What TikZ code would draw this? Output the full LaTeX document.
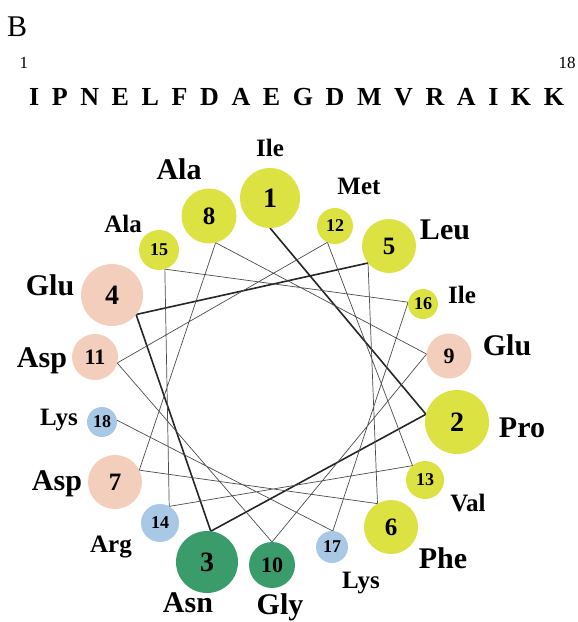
\documentclass[tikz,border=0pt]{standalone}
\usepackage{fontspec}
\setmainfont{Liberation Serif}
\usetikzlibrary{backgrounds}
\definecolor{cyel}{RGB}{220,226,66}
\definecolor{cpink}{RGB}{243,206,188}
\definecolor{cblue}{RGB}{168,200,230}
\definecolor{cgreen}{RGB}{58,156,106}
\newcommand{\numA}{\bfseries\fontsize{28}{28}\selectfont}
\newcommand{\numB}{\bfseries\fontsize{25}{25}\selectfont}
\newcommand{\numC}{\bfseries\fontsize{22}{22}\selectfont}
\newcommand{\numD}{\bfseries\fontsize{18}{18}\selectfont}
\newcommand{\labL}{\bfseries\fontsize{30}{30}\selectfont}
\newcommand{\labS}{\bfseries\fontsize{25}{25}\selectfont}
\begin{document}
\begin{tikzpicture}[x=1pt,y=-1pt,
  res/.style={circle,inner sep=0pt,outer sep=0pt,draw=none,minimum size=#1},
  yel/.style={res=#1,fill=cyel},
  pink/.style={res=#1,fill=cpink},
  blue/.style={res=#1,fill=cblue},
  green/.style={res=#1,fill=cgreen},
  bigl/.style={anchor=base,font=\labL,inner sep=0pt},
  smll/.style={anchor=base,font=\labS,inner sep=0pt},
  backbone/.style={line width=1.6pt,black!85,line join=miter},
  turn/.style={line width=0.7pt,black!70,line join=miter}]
\useasboundingbox (0,0) rectangle (578,622);

% heading and sequence
\node[anchor=base west,font=\fontsize{30}{30}\selectfont,inner sep=0pt] (hdr) at (7,36) {B};
\node[anchor=base,font=\fontsize{17}{17}\selectfont,inner sep=0pt] (first) at (24,68) {1};
\node[anchor=base,font=\fontsize{17}{17}\selectfont,inner sep=0pt] (last) at (567,68) {18};
\node[anchor=base west,font=\bfseries\fontsize{26}{26}\selectfont,inner sep=0pt] (seq) at (29,105)
  {\spaceskip=12.6pt\relax I P N E L F D A E G D M V R A I K K};

% residues of the wheel
\node[yel=60pt,font=\numA]   (n1)  at (270,198) {1};
\node[yel=64pt,font=\numA]   (n2)  at (457,422) {2};
\node[green=62pt,font=\numA] (n3)  at (207,562) {3};
\node[pink=62pt,font=\numA]  (n4)  at (112,295) {4};
\node[yel=54pt,font=\numB]   (n5)  at (389,246) {5};
\node[yel=54pt,font=\numB]   (n6)  at (391,527) {6};
\node[pink=54pt,font=\numB]  (n7)  at (115,482) {7};
\node[yel=55pt,font=\numB]   (n8)  at (209,216) {8};
\node[pink=45pt,font=\numC]  (n9)  at (449,356) {9};
\node[green=46pt,font=\numC] (n10) at (272,565) {10};
\node[pink=46pt,font=\numC]  (n11) at (95,357)  {11};
\node[yel=36pt,font=\numD]   (n12) at (335,226) {12};
\node[yel=38pt,font=\numD]   (n13) at (425,480) {13};
\node[blue=38pt,font=\numD]  (n14) at (160,523) {14};
\node[yel=40pt,font=\numD]   (n15) at (159,250) {15};
\node[yel=30pt,font=\numD]   (n16) at (423,304) {16};
\node[blue=32pt,font=\numD]  (n17) at (332,547) {17};
\node[blue=30pt,font=\numD]  (n18) at (102,422) {18};

% residue names
\node[smll] (t1)  at (270,156) {Ile};
\node[bigl] (t2)  at (522,437) {Pro};
\node[bigl] (t3)  at (188,612) {Asn};
\node[bigl] (t4)  at (50,295)  {Glu};
\node[bigl] (t5)  at (445,239) {Leu};
\node[bigl] (t6)  at (443,568) {Phe};
\node[bigl] (t7)  at (57,490)  {Asp};
\node[bigl] (t8)  at (179,179) {Ala};
\node[bigl] (t9)  at (507,355) {Glu};
\node[bigl] (t10) at (280,614) {Gly};
\node[bigl] (t11) at (42,367)  {Asp};
\node[smll] (t12) at (359,194) {Met};
\node[smll] (t13) at (468,511) {Val};
\node[smll] (t14) at (111,552) {Arg};
\node[smll] (t15) at (123,232) {Ala};
\node[smll] (t16) at (462,303) {Ile};
\node[smll] (t17) at (361,588) {Lys};
\node[smll] (t18) at (59,425)  {Lys};

% helical path from residue to residue
\begin{scope}[on background layer]
  \draw[backbone] (n1.270) -- (n2.166) -- (n3.83) -- (n4.321) -- (n5.219);
  \draw[turn] (n5.219) -- (n6.120) -- (n7.26) -- (n8.284) -- (n9.175)
    -- (n10.90) -- (n11.345) -- (n12.245) -- (n13.131) -- (n14.61)
    -- (n15.287) -- (n16.173) -- (n17.87) -- (n18.7);
\end{scope}
\end{tikzpicture}
\end{document}
